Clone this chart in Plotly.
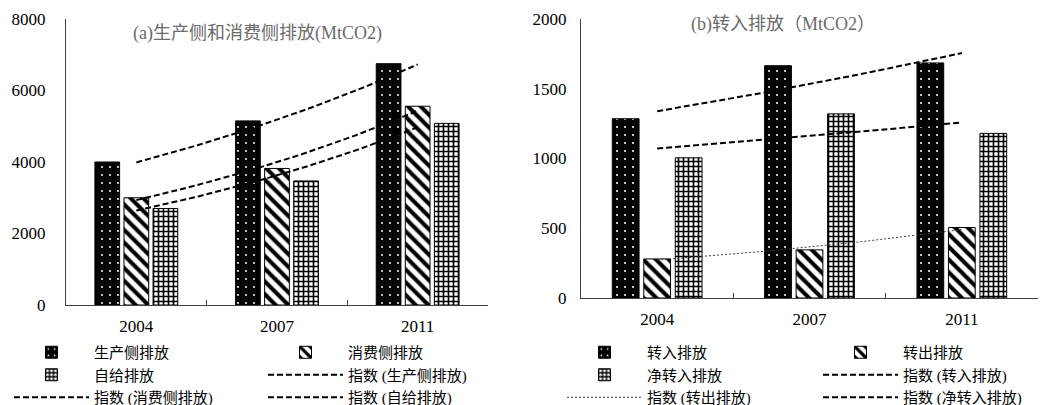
import numpy as np
import plotly.graph_objects as go

years = ["2004", "2007", "2011"]

# Panel (a)
production = [4000, 5150, 6750]
consumption = [3000, 3820, 5560]
self_supply = [2700, 3470, 5080]

# Panel (b)
transfer_in = [1285, 1665, 1685]
transfer_out = [280, 345, 505]
net_in = [1005, 1320, 1180]

title_a = "(a)生产侧和消费侧排放(MtCO2)"
title_b = "(b)转入排放（MtCO2）"

FONT = "Liberation Serif, Times New Roman, Noto Sans CJK SC, serif"
AX = "#404040"
W, H = 1064, 405
OFF = 8  # page body margin offset


def fx(px):
    return (px - OFF) / W


def fy(py):
    return 1 - (py - OFF) / H


def exp_trend(vals):
    idx = np.arange(len(vals))
    b, a = np.polyfit(idx, np.log(vals), 1)
    xs = np.linspace(0, len(vals) - 1, 60)
    return xs, np.exp(a + b * xs)


def pat(kind):
    if kind == "dots":
        return dict(marker_color="black",
                    marker_pattern=dict(shape=".", fgcolor="white", bgcolor="black",
                                        size=8, solidity=0.05, fillmode="replace"))
    if kind == "stripes":
        return dict(marker_color="white",
                    marker_pattern=dict(shape="\\", fgcolor="black", bgcolor="white",
                                        size=9, solidity=0.45, fillmode="replace"))
    return dict(marker_color="white",
                marker_pattern=dict(shape="+", fgcolor="black", bgcolor="white",
                                    size=5, solidity=0.55, fillmode="replace"))


fig = go.Figure()

# ---- left panel
for name, vals, kind, lg in [("生产侧排放", production, "dots", "legend"),
                             ("消费侧排放", consumption, "stripes", "legend2"),
                             ("自给排放", self_supply, "check", "legend")]:
    fig.add_trace(go.Bar(x=years, y=vals, name=name, xaxis="x", yaxis="y",
                         marker_line=dict(color="black", width=1), legend=lg,
                         **pat(kind)))

for name, vals, lg in [("指数 (生产侧排放)", production, "legend2"),
                       ("指数 (消费侧排放)", consumption, "legend"),
                       ("指数 (自给排放)", self_supply, "legend2")]:
    xs, ys = exp_trend(vals)
    fig.add_trace(go.Scatter(x=xs, y=ys, mode="lines", name=name, xaxis="x2", yaxis="y",
                             line=dict(color="black", width=2, dash="6px,3px"),
                             legend=lg))

# ---- right panel
for name, vals, kind, lg in [("转入排放", transfer_in, "dots", "legend3"),
                             ("转出排放", transfer_out, "stripes", "legend4"),
                             ("净转入排放", net_in, "check", "legend3")]:
    fig.add_trace(go.Bar(x=years, y=vals, name=name, xaxis="x3", yaxis="y2",
                         marker_line=dict(color="black", width=1), legend=lg,
                         **pat(kind)))

for name, vals, style, lg in [
        ("指数 (转入排放)", transfer_in, dict(color="black", width=2, dash="6px,3px"), "legend4"),
        ("指数 (转出排放)", transfer_out, dict(color=AX, width=1, dash="2px,2px"), "legend3"),
        ("指数 (净转入排放)", net_in, dict(color="black", width=2, dash="6px,3px"), "legend4")]:
    xs, ys = exp_trend(vals)
    fig.add_trace(go.Scatter(x=xs, y=ys, mode="lines", name=name, xaxis="x4", yaxis="y2",
                             line=style, legend=lg))

tickfont = dict(family=FONT, size=17, color="black")
xcat = dict(type="category", range=[-0.5, 2.5], showline=True, linecolor=AX, linewidth=1,
            ticks="inside", ticklen=5, tickcolor=AX, tickson="boundaries",
            showgrid=False, zeroline=False, tickfont=tickfont, ticklabelstandoff=6,
            fixedrange=True, automargin=False)
xlin = dict(range=[-0.5, 2.5], visible=False, showgrid=False, zeroline=False)
ybase = dict(showline=True, linecolor=AX, linewidth=1, ticks="", showgrid=False,
             zeroline=False, tickfont=tickfont, automargin=False)

leg = dict(orientation="v", font=dict(family=FONT, size=15, color="black"),
           bgcolor="rgba(0,0,0,0)", borderwidth=0, itemwidth=75,
           xanchor="left", yanchor="top", itemclick=False, traceorder="normal",
           tracegroupgap=0)
ly = fy(336)

fig.update_layout(
    width=W, height=H,
    margin=dict(l=0, r=0, t=0, b=0, autoexpand=False),
    paper_bgcolor="white", plot_bgcolor="white",
    barmode="group", bargap=0.38, bargroupgap=0.15,
    showlegend=True,
    xaxis=dict(domain=[fx(66), fx(488)], anchor="y", **xcat),
    xaxis2=dict(domain=[fx(66), fx(488)], anchor="y", overlaying="x", **xlin),
    yaxis=dict(domain=[fy(305), fy(19)], anchor="x", range=[0, 8000],
               tickvals=[0, 2000, 4000, 6000, 8000], ticklabelstandoff=16, **ybase),
    xaxis3=dict(domain=[fx(581), fx(1038)], anchor="y2", **xcat),
    xaxis4=dict(domain=[fx(581), fx(1038)], anchor="y2", overlaying="x3", **xlin),
    yaxis2=dict(domain=[fy(298), fy(19)], anchor="x3", range=[0, 2000],
                tickvals=[0, 500, 1000, 1500, 2000], ticklabelstandoff=10, **ybase),
    legend=dict(x=fx(9), y=ly, **leg),
    legend2=dict(x=fx(263), y=ly, **leg),
    legend3=dict(x=fx(562), y=ly, **leg),
    legend4=dict(x=fx(818), y=ly, **leg),
    annotations=[
        dict(text=title_a, x=fx(257), y=fy(33), xref="paper", yref="paper", showarrow=False,
             font=dict(family=FONT, size=18, color="#6b6b6b"), xanchor="center", yanchor="middle"),
        dict(text=title_b, x=fx(783), y=fy(24), xref="paper", yref="paper", showarrow=False,
             font=dict(family=FONT, size=18, color="#6b6b6b"), xanchor="center", yanchor="middle"),
    ],
)

fig.write_html("out.html")
